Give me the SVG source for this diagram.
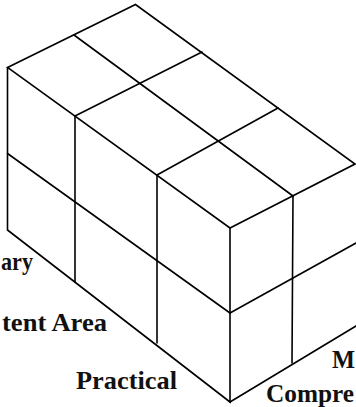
<svg xmlns="http://www.w3.org/2000/svg" width="356" height="407" viewBox="0 0 356 407">
<style>
.e{stroke:#000;stroke-width:1.6;fill:none;stroke-linecap:round}
.t{font-family:"Liberation Serif","Times New Roman",serif;font-weight:bold;font-size:26px;fill:#111}
</style>
<rect width="356" height="407" fill="#fff"/>
<g id="box">
<g id="top-face" class="e">
<path d="M7.5 67.5 L135.5 4.5 L355 164 L230 228 Z"/>
<path d="M74 35 L293 196"/>
<path d="M75 116 L202 52"/>
<path d="M157 175 L278 108"/>
</g>
<g id="left-face" class="e">
<path d="M7.5 67.5 L7.5 230 L230 402 L230 228"/>
<path d="M75 116 L75 282"/>
<path d="M157 175 L157 343"/>
<path d="M7.5 153.5 L230 313"/>
</g>
<g id="right-face" class="e">
<path d="M293 196 L292 363"/>
<path d="M230 313 L356 243"/>
<path d="M230 402 L356 326"/>
</g>
</g>
<g id="labels">
<text class="t" x="1" y="270" textLength="32" lengthAdjust="spacingAndGlyphs">ary</text>
<text class="t" x="2" y="331" textLength="105" lengthAdjust="spacingAndGlyphs">tent Area</text>
<text class="t" x="76" y="389" textLength="101" lengthAdjust="spacingAndGlyphs">Practical</text>
<text class="t" x="332" y="368" textLength="23" lengthAdjust="spacingAndGlyphs">M</text>
<text class="t" x="266" y="402" textLength="88" lengthAdjust="spacingAndGlyphs">Compre</text>
</g>
</svg>
